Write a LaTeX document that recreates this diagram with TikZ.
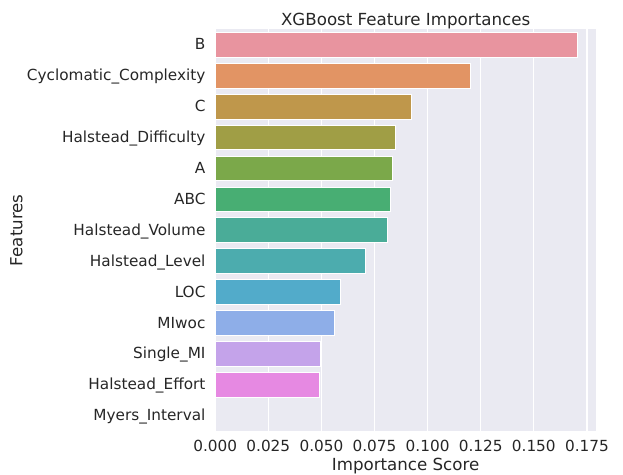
\documentclass[tikz,border=0pt]{standalone}
\usepackage{fontspec}
\setmainfont{DejaVu Sans}
\definecolor{axbg}{HTML}{EAEAF2}
\definecolor{txt}{HTML}{262626}
\definecolor{c0}{HTML}{E8949F}
\definecolor{c1}{HTML}{E29464}
\definecolor{c2}{HTML}{BF974B}
\definecolor{c3}{HTML}{A09E45}
\definecolor{c4}{HTML}{7BA84A}
\definecolor{c5}{HTML}{48AE73}
\definecolor{c6}{HTML}{4AAC98}
\definecolor{c7}{HTML}{4CACAE}
\definecolor{c8}{HTML}{52ABCA}
\definecolor{c9}{HTML}{8EAEE8}
\definecolor{c10}{HTML}{C4A3EA}
\definecolor{c11}{HTML}{E689E2}
\definecolor{c12}{HTML}{E8949F}
\begin{document}
\begin{tikzpicture}[x=0.72pt,y=-0.72pt,
  ticklab/.style={text=txt, font=\fontsize{11}{13}\selectfont, inner sep=0pt},
  axlab/.style={text=txt, font=\fontsize{12}{14}\selectfont, inner sep=0pt},
  gridln/.style={white, line width=0.9pt},
  barbox/.style={draw=white, line width=0.5pt}]
\useasboundingbox (0,0) rectangle (623,474);
% axes background
\fill[axbg] (215.2,29.3) rectangle (596,431);
% vertical grid lines
\foreach \k in {0,...,7} {
  \draw[gridln] (215.2+53.1*\k,29.3) -- (215.2+53.1*\k,431);
}
% bars and y tick labels
\foreach \v/\c/\t [count=\i from 0] in {
  0.1705/c0/B,
  0.1201/c1/Cyclomatic\_Complexity,
  0.0922/c2/C,
  0.0848/c3/Halstead\_Difficulty,
  0.0834/c4/A,
  0.0826/c5/ABC,
  0.0810/c6/Halstead\_Volume,
  0.0705/c7/Halstead\_Level,
  0.0589/c8/LOC,
  0.0559/c9/MIwoc,
  0.0497/c10/Single\_MI,
  0.0490/c11/Halstead\_Effort,
  0.0000/c12/Myers\_Interval} {
  \pgfmathsetmacro\yc{29.3+30.9*(\i+0.5)}
  \pgfmathsetmacro\xe{215.2+2124*\v}
  \ifdim\v pt>0pt
    \fill[\c, barbox] (215.2,\yc-12.35) rectangle (\xe,\yc+12.35);
  \fi
  \node[ticklab, anchor=base east] (ylab\i) at (205.7,\yc+5.2) {\t};
}
% x tick labels
\foreach \t [count=\k from 0] in {0.000,0.025,0.050,0.075,0.100,0.125,0.150,0.175} {
  \node[ticklab, anchor=base] (xlab\k) at (215.2+53.1*\k,451.7) {\t};
}
% titles
\node[axlab, anchor=base] (title) at (405.6,25) {XGBoost Feature Importances};
\node[axlab, anchor=base] (xaxlab) at (405.6,470.5) {Importance Score};
\node[axlab, anchor=base, rotate=90] (yaxlab) at (22.3,230.2) {Features};
\end{tikzpicture}
\end{document}
